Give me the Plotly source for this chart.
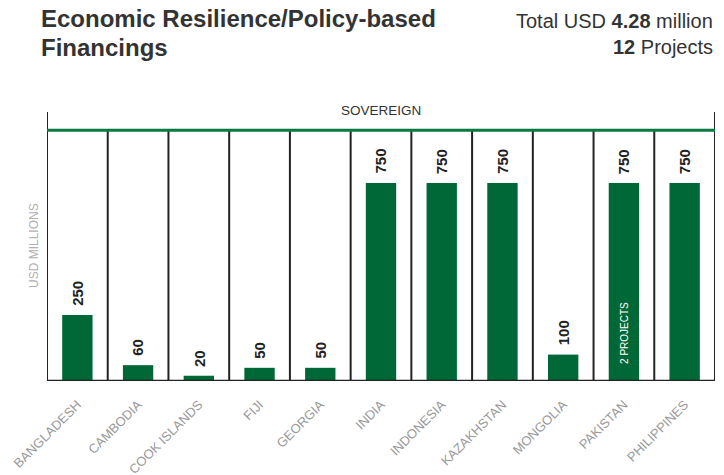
import plotly.graph_objects as go

categories = ["BANGLADESH", "CAMBODIA", "COOK ISLANDS", "FIJI", "GEORGIA", "INDIA",
              "INDONESIA", "KAZAKHSTAN", "MONGOLIA", "PAKISTAN", "PHILIPPINES"]
values = [250, 60, 20, 50, 50, 750, 750, 750, 100, 750, 750]
value_labels = ["250", "60", "20", "50", "50", "750", "750", "750", "100", "750", "750"]
inner_notes = {"PAKISTAN": "2 PROJECTS"}
group_label = "SOVEREIGN"
group_level = 950
title_lines = ["Economic Resilience/Policy-based", "Financings"]
summary_lines = ["Total USD <b>4.28</b> million", "<b>12</b> Projects"]
y_title = "USD MILLIONS"

BAR = "#006837"
LINE = "#0b7a42"
FONT = "Liberation Sans"
OFF = 8                      # page body margin of the html page
WIN_W, WIN_H = 724, 475
W, H = WIN_W - 2 * OFF, WIN_H - OFF
PL, PR, PT, PB = 47, 715, 112, 381   # plot area in window pixels
ML, MR, MT = PL - OFF, OFF + W - PR, PT - OFF
MB = OFF + H - PB
PW, PH = PR - PL, PB - PT
YMAX = 1019

def px_x(p):
    return (p - PL) / PW

def px_y(p):
    return (PB - p) / PH

fig = go.Figure()
fig.add_trace(go.Bar(x=list(range(len(categories))), y=values, width=0.5,
                     marker=dict(color=BAR, line=dict(width=0)), hoverinfo="skip"))

n = len(categories)
shapes = []
for i in range(n + 1):
    outer = i == 0 or i == n
    shapes.append(dict(type="line", xref="x", yref="y", x0=i - 0.5, x1=i - 0.5,
                       y0=0, y1=YMAX if outer else group_level,
                       line=dict(color="#222222", width=2)))
shapes.append(dict(type="line", xref="x", yref="y", x0=-0.5, x1=n - 0.5,
                   y0=group_level, y1=group_level, line=dict(color=LINE, width=3)))
shapes.append(dict(type="line", xref="x", yref="y", x0=-0.5, x1=n - 0.5,
                   y0=0, y1=0, line=dict(color="#222222", width=2.5)))

annotations = []
for i, (v, lab) in enumerate(zip(values, value_labels)):
    annotations.append(dict(x=i, y=v, xref="x", yref="y", text=f"<b>{lab}</b>",
                            textangle=-90, showarrow=False, yanchor="bottom",
                            xanchor="center", yshift=7,
                            font=dict(family=FONT, size=15, color="#222222")))
for cat, note in inner_notes.items():
    i = categories.index(cat)
    annotations.append(dict(x=i, y=0, xref="x", yref="y", text=note, textangle=-90,
                            showarrow=False, yanchor="bottom", xanchor="center",
                            yshift=15, font=dict(family=FONT, size=10, color="#ffffff")))
annotations.append(dict(x=0.5, y=group_level, xref="paper", yref="y", text=group_label,
                        showarrow=False, yanchor="bottom", xanchor="center", yshift=10,
                        font=dict(family=FONT, size=13.5, color="#333333")))
annotations.append(dict(x=px_x(34), y=px_y(246), xref="paper", yref="paper", text=y_title,
                        textangle=-90, showarrow=False, xanchor="center", yanchor="middle",
                        font=dict(family=FONT, size=12, color="#b0b0b0")))
for k, line in enumerate(title_lines):
    annotations.append(dict(x=px_x(39), y=px_y(28 + 29 * k), xref="paper", yref="paper",
                            text=f"<b>{line}</b>", showarrow=False, xanchor="left",
                            yanchor="bottom", yshift=-6,
                            font=dict(family=FONT, size=24, color="#333333")))
for k, line in enumerate(summary_lines):
    annotations.append(dict(x=px_x(715), y=px_y(29 + 26 * k), xref="paper", yref="paper",
                            text=line, showarrow=False, xanchor="right",
                            yanchor="bottom", yshift=-5,
                            font=dict(family=FONT, size=20, color="#333333")))

fig.update_layout(
    width=W, height=H, margin=dict(l=ML, r=MR, t=MT, b=MB, autoexpand=False),
    paper_bgcolor="white", plot_bgcolor="white", showlegend=False,
    shapes=shapes, annotations=annotations,
    xaxis=dict(range=[-0.5, n - 0.5], tickmode="array", tickvals=list(range(n)),
               ticktext=categories, tickangle=-45, showgrid=False, zeroline=False,
               showline=False, ticks="outside", ticklen=10, tickcolor="rgba(0,0,0,0)",
               tickfont=dict(family=FONT, size=13, color="#9a9a9a")),
    yaxis=dict(range=[0, YMAX], showticklabels=False, showgrid=False, zeroline=False,
               showline=False, ticks=""),
)
fig.write_html("out.html")
